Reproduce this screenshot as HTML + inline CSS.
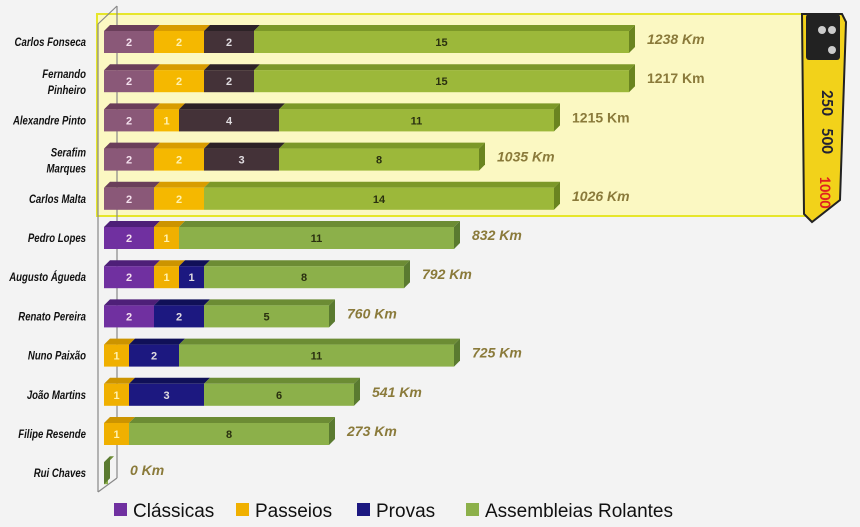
<!DOCTYPE html>
<html><head><meta charset="utf-8"><style>
html,body{margin:0;padding:0;background:#f3f3f3;width:860px;height:527px;overflow:hidden}
svg{display:block}
</style></head><body>
<svg id="chart" width="860" height="527" xmlns="http://www.w3.org/2000/svg" font-family="Calibri, 'Liberation Sans', sans-serif">
<rect x="0" y="0" width="860" height="527" fill="#f3f3f3"/>
<rect x="97" y="14" width="709" height="202" fill="#fbf8c2" stroke="#e6e62a" stroke-width="2"/>
<g stroke="#888" stroke-width="1.2" fill="none">
<line x1="117" y1="6" x2="117" y2="478"/>
<line x1="98" y1="24" x2="98" y2="492"/>
<line x1="98" y1="24" x2="117" y2="6"/>
<line x1="98" y1="492" x2="117" y2="478"/>
</g>
<g id="bars"></g>
<g id="labels"></g>
<g>
<polygon points="802,14 842,14 846,22 840,200 812,222 804,214" fill="#f2d21a" stroke="#222" stroke-width="2"/>
<rect x="806" y="14" width="34" height="46" fill="#222" rx="3"/>
<circle cx="822" cy="30" r="4" fill="#ccc"/><circle cx="832" cy="30" r="4" fill="#ccc"/><circle cx="832" cy="50" r="4" fill="#ccc"/>
<text x="822" y="90" transform="rotate(90 822 90)" font-size="17" font-weight="bold" fill="#223">250</text>
<text x="822" y="128" transform="rotate(90 822 128)" font-size="17" font-weight="bold" fill="#223">500</text>
<text x="820" y="176" transform="rotate(90 820 176)" font-size="16" font-weight="bold" fill="#e02020">1000</text>
</g>
<g id="legend"></g>
</svg>
<script>
const names=["Carlos Fonseca","Fernando|Pinheiro","Alexandre Pinto","Serafim|Marques","Carlos Malta","Pedro Lopes","Augusto Águeda","Renato Pereira","Nuno Paixão","João Martins","Filipe Resende","Rui Chaves"];
const classicas=[2,2,2,2,2,2,2,2,0,0,0,0];
const passeios=[2,2,1,2,2,1,1,0,1,1,1,0];
const provas=[2,2,4,3,0,0,1,2,2,3,0,0];
const assembleias=[15,15,11,8,14,11,8,5,11,6,8,0];
const kms=["1238 Km","1217 Km","1215 Km","1035 Km","1026 Km","832 Km","792 Km","760 Km","725 Km","541 Km","273 Km","0 Km"];
const seriesNames=["Clássicas","Passeios","Provas","Assembleias Rolantes"];
const NS="http://www.w3.org/2000/svg";
const x0=104,unit=25,rowTop=31,rowStep=39.2,barH=22,depth=6;
const xScale=v=>x0+v*unit;
const yRow=i=>rowTop+i*rowStep;
const colHi=["#8a5878","#f5b800","#443238","#9cb83a"];
const colLo=["#7030a0","#f0b000","#1c1880","#8cb04a"];
const topHi=["#6a3e5a","#d89c00","#2c2226","#7c9828"];
const topLo=["#4e1f78","#cc9400","#101058","#6c8c34"];
const txtCol=["#f4e0ee","#fff2b0","#e0dce0","#2a3010"];
const bars=document.getElementById('bars'),labels=document.getElementById('labels'),legend=document.getElementById('legend');
function mk(tag,attrs,parent){const e=document.createElementNS(NS,tag);for(const k in attrs)e.setAttribute(k,attrs[k]);parent.appendChild(e);return e;}
const series=[classicas,passeios,provas,assembleias];
names.forEach((n,i)=>{
 const y=yRow(i);const hi=i<5;
 let acc=0;
 series.forEach((s,k)=>{
  const v=s[i];if(v<=0&&!(i===11&&k===3))return;
  const w=v>0?v*unit:4;const x=xScale(acc);
  const g=mk('g',{},bars);
  
  
  mk('polygon',{points:`${x},${y} ${x+depth},${y-depth} ${x+w+depth},${y-depth} ${x+w},${y}`,fill:(hi?topHi:topLo)[k]},g);
  mk('rect',{x:x,y:y,width:w,height:barH,fill:(hi?colHi:colLo)[k]},g);
  if(v>0){const t=mk('text',{x:x+w/2,y:y+15,'font-size':11,'font-weight':'bold','text-anchor':'middle',fill:txtCol[k],'font-family':"'Liberation Sans',sans-serif"},g);t.textContent=v;}
  acc+=v;
 });
 const total=series.reduce((a,s)=>a+s[i],0);
 const xe=xScale(total);
 const side=mk('polygon',{points:`${xe},${y} ${xe+depth},${y-depth} ${xe+depth},${y+barH-depth} ${xe},${y+barH}`,fill:hi?"#6a8420":"#5a7a30"},bars);
 
 
 const km=mk('text',{x:xe+(total>0?18:26),y:y+13,'font-size':14,'font-weight':'bold','font-style':(i===2||i===1)?'normal':'italic',fill:'#8a7a3a','font-family':"'Liberation Sans',sans-serif"},labels);
 km.textContent=kms[i];
 
 
 const parts=n.split('|');
 const lg=mk('g',{transform:'translate(86,0) scale(0.8,1)'},labels);
 const lt=mk('text',{x:0,'font-size':12,'font-weight':'bold','font-style':'italic','text-anchor':'end',fill:'#111','font-family':"'Liberation Sans',sans-serif"},lg);
 
 
 if(parts.length===1){lt.setAttribute('y',y+15);lt.textContent=n;}
 else{parts.forEach((p,j)=>{const ts=mk('tspan',{x:0,y:y+8+j*16},lt);ts.textContent=p;});}
});
const legX=[114,236,357,466];
seriesNames.forEach((s,k)=>{
 const g=mk('g',{},legend);
 
 
 mk('rect',{x:legX[k],y:503,width:13,height:13,fill:colLo[k]},g);
 const t=mk('text',{x:legX[k]+19,y:517,'font-size':19,fill:'#111','font-family':"'Liberation Sans',sans-serif"},g);
 t.textContent=s;
});
</script>
</body></html>
